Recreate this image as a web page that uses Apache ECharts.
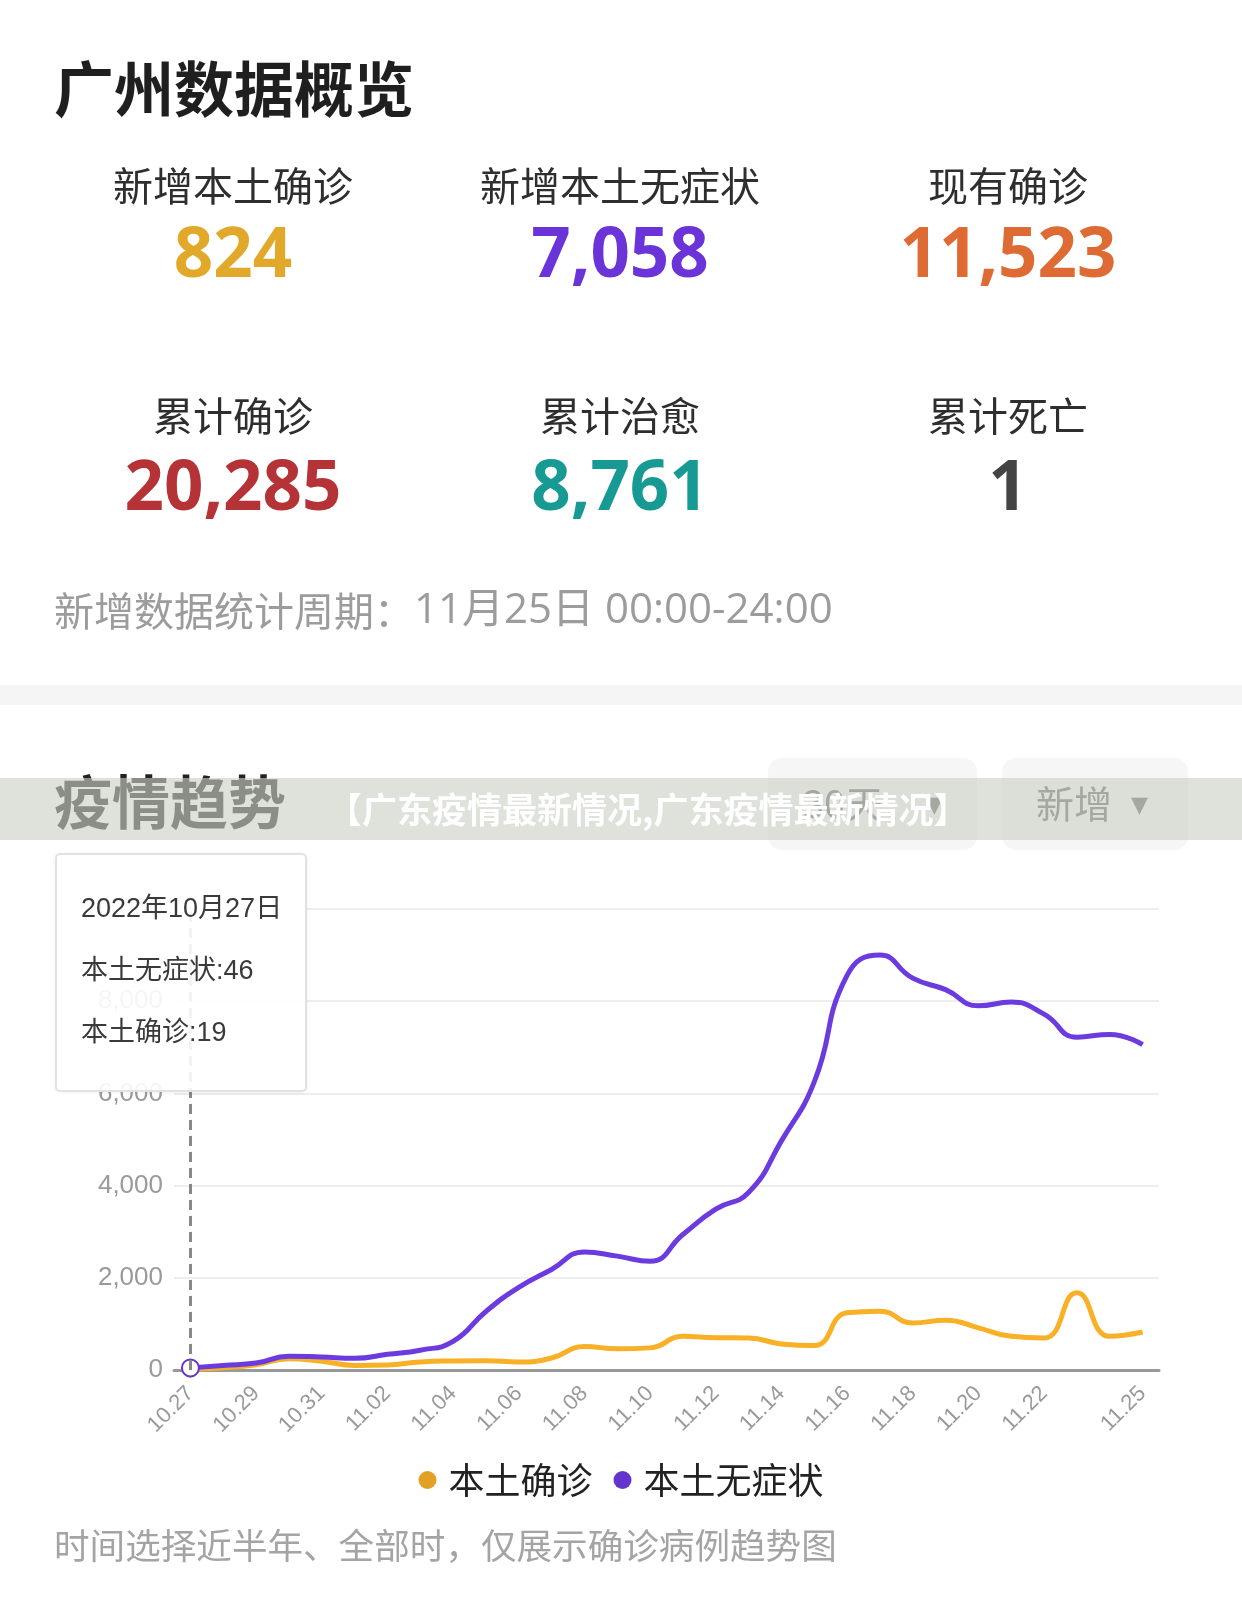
<!DOCTYPE html>
<html><head><meta charset="utf-8">
<script src="https://cdn.jsdelivr.net/npm/echarts@6/dist/echarts.min.js"></script>
<style>html,body{margin:0;padding:0;background:#fff;} #main{width:1242px;height:1619px;}</style>
</head><body><div id="main"></div>
<script>
// ---------- data ----------
const pageTitle = '广州数据概览';
const kpiLabels = ['新增本土确诊', '新增本土无症状', '现有确诊', '累计确诊', '累计治愈', '累计死亡'];
const kpiValues = [824, 7058, 11523, 20285, 8761, 1];
const kpiColors = ['#E2A82A', '#6A34D9', '#DF6B34', '#B53236', '#179A94', '#444444'];
const periodLabel = '新增数据统计周期：';
const periodValue = '11月25日 00:00-24:00';
const sectionTitle = '疫情趋势';
const rangeButton = '30天';
const typeButton = '新增';
const watermarkText = '【广东疫情最新情况,广东疫情最新情况】';
const footNote = '时间选择近半年、全部时，仅展示确诊病例趋势图';
const tooltipYear = 2022;
const focusIndex = 0;

const categories = ['10.27','10.28','10.29','10.30','10.31','11.01','11.02','11.03','11.04','11.05',
  '11.06','11.07','11.08','11.09','11.10','11.11','11.12','11.13','11.14','11.15',
  '11.16','11.17','11.18','11.19','11.20','11.21','11.22','11.23','11.24','11.25'];
const seriesNames = ['本土确诊', '本土无症状'];
const confirmed = [19, 50, 115, 245, 190, 100, 110, 175, 195, 200,
  175, 260, 510, 460, 480, 730, 700, 695, 565, 530,
  1240, 1275, 1020, 1080, 915, 730, 695, 1675, 730, 824];
const asymptomatic = [46, 100, 150, 300, 280, 255, 340, 430, 620, 1270,
  1790, 2180, 2560, 2470, 2360, 2940, 3490, 3850, 4970, 6250,
  8560, 9000, 8500, 8250, 7900, 7980, 7720, 7220, 7280, 7058];
const yTicks = [0, 2000, 4000, 6000, 8000, 10000];
const seriesColors = ['#E2A024', '#6236CC'];

// ---------- layout ----------
const CJK = '"Noto Sans CJK SC", sans-serif';
const NUM = '"Open Sans", "Noto Sans CJK SC", sans-serif';
const MIX = '"Open Sans", "Noto Sans CJK SC", sans-serif';
const AX = '"Liberation Sans", "Noto Sans CJK SC", sans-serif';
const colX = [233, 620, 1008];
const labelY = [186, 416];
const valueY = [257, 490];

const graphics = [];
graphics.push({type: 'text', z: 10, style: {text: pageTitle, x: 54, y: 89, fill: '#1f1f1f',
  font: 'bold 60px ' + CJK, verticalAlign: 'middle'}});
kpiLabels.forEach((lab, i) => {
  const c = i % 3, r = Math.floor(i / 3);
  graphics.push({type: 'text', z: 10, style: {text: lab, x: colX[c], y: labelY[r], fill: '#2e2e2e',
    font: '40px ' + CJK, align: 'center', verticalAlign: 'middle'}});
  graphics.push({type: 'text', z: 10, style: {text: kpiValues[i].toLocaleString('en-US'), x: colX[c], y: valueY[r],
    fill: kpiColors[i], font: 'bold 69px ' + NUM, align: 'center', verticalAlign: 'middle'}});
});
graphics.push({type: 'text', z: 10, style: {
  text: '{a|' + periodLabel + '}{b|' + periodValue + '}', x: 54, y: 611, verticalAlign: 'middle',
  rich: {a: {fontSize: 40, fontFamily: CJK, fill: '#9c9c9c', color: '#9c9c9c'},
         b: {fontSize: 42, fontFamily: MIX, fill: '#9c9c9c', color: '#9c9c9c'}}}});
graphics.push({type: 'rect', z: 5, shape: {x: 0, y: 685, width: 1242, height: 20}, style: {fill: '#f5f5f5'}});
graphics.push({type: 'text', z: 10, style: {text: sectionTitle, x: 54, y: 802, fill: '#222',
  font: 'bold 58px ' + CJK, verticalAlign: 'middle'}});
graphics.push({type: 'rect', z: 5, shape: {x: 768, y: 758, width: 209, height: 92, r: 14}, style: {fill: '#f6f6f7'}});
graphics.push({type: 'rect', z: 5, shape: {x: 1002, y: 758, width: 186, height: 92, r: 14}, style: {fill: '#f6f6f7'}});
graphics.push({type: 'text', z: 10, style: {text: rangeButton, x: 803, y: 804, fill: '#666',
  font: '38px ' + CJK, verticalAlign: 'middle'}});
graphics.push({type: 'text', z: 10, style: {text: '▼', x: 926, y: 806, fill: '#666',
  font: '22px "DejaVu Sans"', verticalAlign: 'middle'}});
graphics.push({type: 'text', z: 10, style: {text: typeButton, x: 1036, y: 804, fill: '#666',
  font: '38px ' + CJK, verticalAlign: 'middle'}});
graphics.push({type: 'text', z: 10, style: {text: '▼', x: 1131, y: 806, fill: '#666',
  font: '22px "DejaVu Sans"', verticalAlign: 'middle'}});
// watermark overlay band
graphics.push({type: 'rect', z: 50, shape: {x: 0, y: 778, width: 1242, height: 62}, style: {fill: 'rgba(203,208,196,0.62)'}});
graphics.push({type: 'text', z: 51, style: {text: watermarkText, x: 327, y: 810, fill: '#ffffff',
  font: 'bold 35px ' + CJK, verticalAlign: 'middle'}});
graphics.push({type: 'text', z: 10, style: {text: footNote, x: 54, y: 1545, fill: '#a4a4a4',
  font: '35.6px ' + CJK, verticalAlign: 'middle'}});

const chart = echarts.init(document.getElementById('main'), null, {renderer: 'canvas'});
const option = {
  animation: false,
  backgroundColor: '#ffffff',
  textStyle: {fontFamily: CJK},
  graphic: graphics,
  grid: {left: 174, right: 83, top: 909, bottom: 249, containLabel: false},
  legend: {
    data: seriesNames.map((n, i) => ({name: n, icon: 'circle', itemStyle: {color: seriesColors[i], borderWidth: 0}})),
    left: 'center', top: 1457, itemWidth: 32, itemHeight: 18, itemGap: 21,
    textStyle: {fontSize: 36, color: '#222', fontFamily: CJK}
  },
  tooltip: {
    trigger: 'axis',
    alwaysShowContent: true,
    triggerOn: 'none',
    transitionDuration: 0,
    position: [55, 853],
    backgroundColor: 'rgba(255,255,255,0.9)',
    borderColor: '#e2e2e2',
    borderWidth: 2,
    borderRadius: 5,
    padding: [22, 24, 22, 24],
    extraCssText: 'width:252px;height:239px;box-sizing:border-box;box-shadow:0 1px 4px rgba(0,0,0,0.06);',
    textStyle: {fontSize: 27, color: '#333', fontFamily: AX},
    axisPointer: {type: 'line', lineStyle: {color: '#888', width: 3, type: [10, 6]}},
    formatter: function (params) {
      const idx = params[0].dataIndex;
      const parts = categories[idx].split('.');
      const date = tooltipYear + '年' + parseInt(parts[0], 10) + '月' + parseInt(parts[1], 10) + '日';
      const ordered = params.slice().sort((a, b) => b.seriesIndex - a.seriesIndex);
      const st = 'line-height:62px;font-size:27px;color:#3a3a3a;white-space:nowrap;';
      let html = '<div style="' + st + '">' + date + '</div>';
      ordered.forEach(p => {
        html += '<div style="' + st + '">' + p.seriesName + ':' + p.value + '</div>';
      });
      return html;
    }
  },
  xAxis: {
    type: 'category',
    data: categories,
    boundaryGap: true,
    axisLine: {lineStyle: {color: '#999', width: 3}},
    axisTick: {show: false},
    axisLabel: {
      rotate: 45, color: '#9a9a9a', fontSize: 22, fontFamily: AX, margin: 20,
      interval: function (i) { return (i % 2 === 0 && i <= 26) || i === categories.length - 1; }
    }
  },
  yAxis: {
    type: 'value',
    min: yTicks[0], max: yTicks[yTicks.length - 1], interval: yTicks[1] - yTicks[0],
    axisLine: {show: false},
    axisTick: {show: false},
    splitLine: {lineStyle: {color: '#eeeeee', width: 2}},
    axisLabel: {color: '#9a9a9a', fontSize: 26, fontFamily: AX, margin: 11,
      formatter: v => v.toLocaleString('en-US')}
  },
  series: [
    {name: seriesNames[0], type: 'line', data: confirmed, smooth: true, showSymbol: false,
     symbol: 'emptyCircle', symbolSize: 15,
     lineStyle: {color: seriesColors[0], width: 5},
     itemStyle: {color: seriesColors[0], borderWidth: 3},
     emphasis: {scale: false, lineStyle: {width: 5}}},
    {name: seriesNames[1], type: 'line', data: asymptomatic, smooth: true, showSymbol: true,
     showAllSymbol: true,
     symbol: function (v, p) { return p.dataIndex === focusIndex ? 'emptyCircle' : 'none'; },
     symbolSize: 17, z: 3,
     lineStyle: {color: seriesColors[1], width: 5},
     itemStyle: {color: seriesColors[1], borderWidth: 3.5},
     emphasis: {scale: false, lineStyle: {width: 5}}}
  ]
};
chart.setOption(option);
chart.dispatchAction({type: 'showTip', seriesIndex: 1, dataIndex: focusIndex});
</script>
</body></html>
